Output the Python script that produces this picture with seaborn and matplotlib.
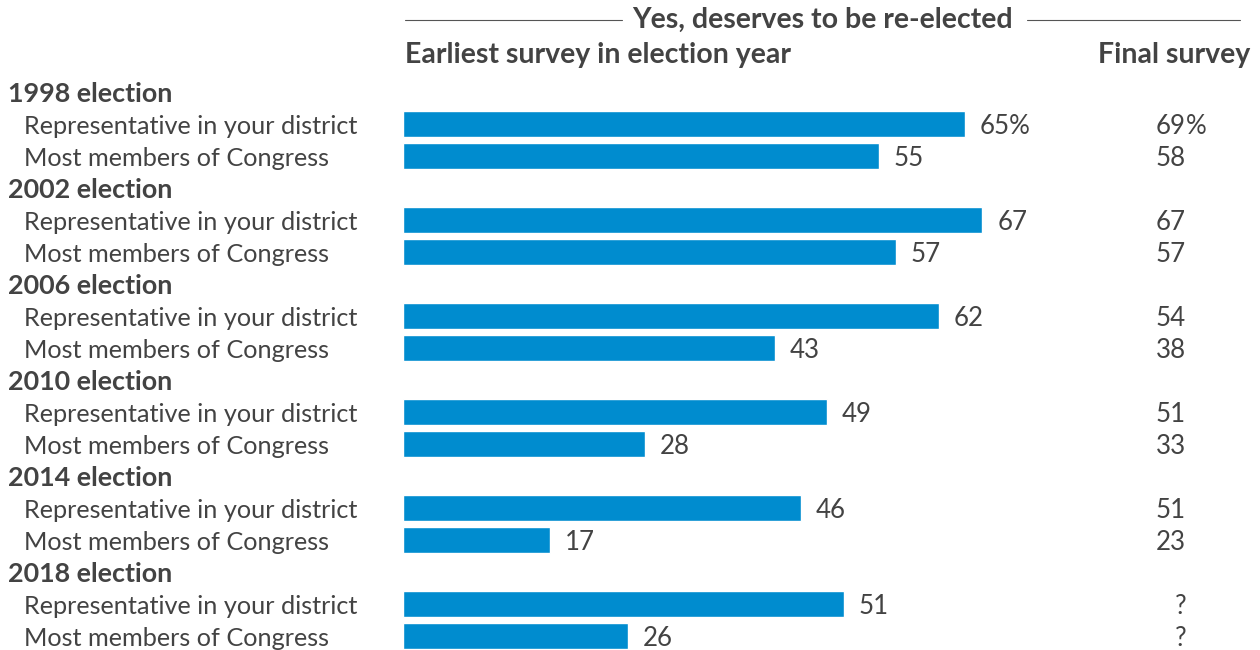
import matplotlib
matplotlib.use("Agg")
import matplotlib.pyplot as plt
import seaborn as sns
import pandas as pd
import numpy as np

# Survey data: share saying the member deserves to be re-elected
elections = ["1998", "2002", "2006", "2010", "2014", "2018"]
rep_earliest = [65, 67, 62, 49, 46, 51]
most_earliest = [55, 57, 43, 28, 17, 26]
rep_final = ["69", "67", "54", "51", "51", "?"]
most_final = ["58", "57", "38", "33", "23", "?"]
sub_labels = ["Representative in your district", "Most members of Congress"]

BAR = "#008ccf"
TXT = "#434343"
FONT = "Lato"

# Build the row table: one header row and two bar rows per election
rows, vals = [], []
for i, e in enumerate(elections):
    rows += [f"{e}-head", f"{e}-rep", f"{e}-most"]
    vals += [np.nan, rep_earliest[i], most_earliest[i]]
df = pd.DataFrame({"row": rows, "value": vals})

sns.set_theme(style="white")
plt.rcParams["font.family"] = [FONT, "DejaVu Sans"]

W, H = 1260, 650
fig = plt.figure(figsize=(W / 100, H / 100), dpi=100)
ax = fig.add_axes([0, 0, 1, 1])

sns.barplot(data=df, x="value", y="row", order=rows, orient="h",
            color=BAR, saturation=1, width=0.8125, ax=ax, errorbar=None)

# Map data units onto the canvas: x=0 at 403px, 8.646px per point; 32px per row
px_per_unit = (965 - 403) / 65
x0 = 403
row_px = 32
top0 = 91.5
ax.set_xlim(-x0 / px_per_unit, (W - x0) / px_per_unit)
ax.set_ylim((H - top0) / row_px, -top0 / row_px)
ax.axis("off")

def px(x):
    return (x - x0) / px_per_unit

dy = 3.0 / row_px  # text sits slightly below the bar centre line

fs_label = 18.2
fs_group = 19.4
fs_num = 18.6
fs_head = 20.5
for i, e in enumerate(elections):
    base = 3 * i
    ax.text(px(8), base + dy, f"{e} election", ha="left", va="center",
            fontsize=fs_group, fontweight="bold", color=TXT)
    for k, (lab, v, fin) in enumerate(zip(sub_labels,
                                         [rep_earliest[i], most_earliest[i]],
                                         [rep_final[i], most_final[i]])):
        y = base + 1 + k + dy
        ax.text(px(24), y, lab, ha="left", va="center", fontsize=fs_label, color=TXT)
        suffix = "%" if (i == 0 and k == 0) else ""
        ax.text(v + 15 / px_per_unit, y, f"{v}{suffix}", ha="left", va="center",
                fontsize=fs_num, color=TXT)
        ax.text(px(1186), y, fin, ha="right", va="center", fontsize=fs_num, color=TXT)
        if suffix:
            ax.text(px(1186), y, suffix, ha="left", va="center", fontsize=fs_num, color=TXT)

# Column headers
ytop = (20 - top0) / row_px
ysub = (55 - top0) / row_px
ax.text(px(822), ytop, "Yes, deserves to be re-elected", ha="center", va="center",
        fontsize=fs_head, fontweight="bold", color=TXT)
ax.plot([px(405), px(622)], [ytop, ytop], color="#555555", lw=0.8)
ax.plot([px(1027), px(1240)], [ytop, ytop], color="#555555", lw=0.8)
ax.text(px(405), ysub, "Earliest survey in election year", ha="left", va="center",
        fontsize=fs_head, fontweight="bold", color=TXT)
ax.text(px(1250), ysub, "Final survey", ha="right", va="center",
        fontsize=fs_head, fontweight="bold", color=TXT)

fig.savefig("out.png", dpi=100, facecolor="white")
